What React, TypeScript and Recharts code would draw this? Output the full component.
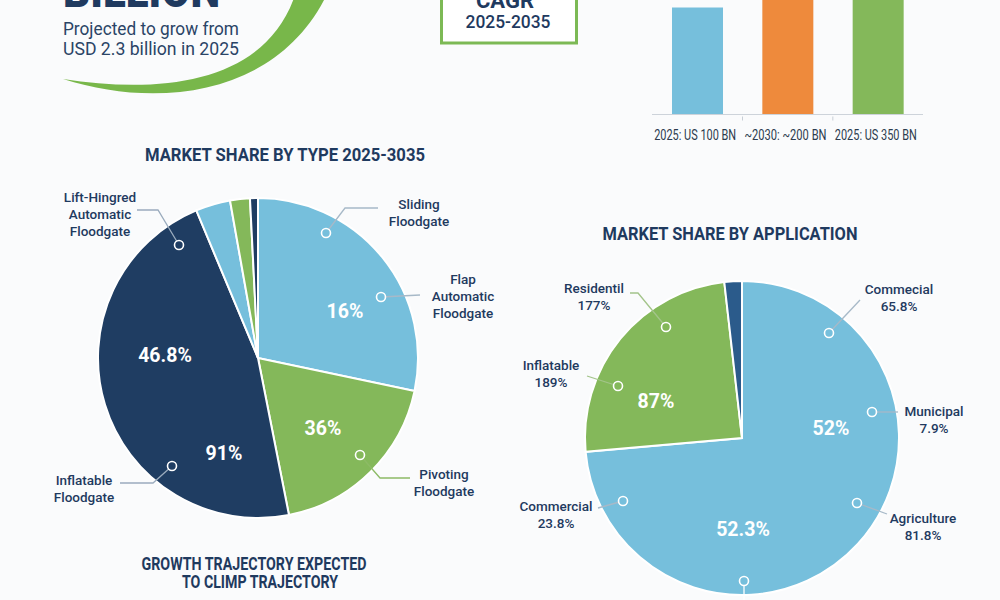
import React from 'react';
import { Bar, BarChart, Cell, Pie, PieChart, XAxis, YAxis } from 'recharts';

// market size bars
const growthLabels = ['2025: US 100 BN', '~2030: ~200 BN', '2025: US 350 BN'];
const growthValues = [100, 200, 350];

// share by type (clockwise from 12 o'clock)
const typeNames = ['Sliding', 'Pivoting', 'Inflatable', 'Lift-Hingred', 'Flap', 'Other'];
const typeShares = [28.3, 18.6, 46.8, 3.5, 2.0, 0.8];
const typeValueLabels = ['16%', '36%', '46.8%', '91%'];
const typeCallouts = [
  ['Lift-Hingred', 'Automatic', 'Floodgate'],
  ['Sliding', 'Floodgate'],
  ['Flap', 'Automatic', 'Floodgate'],
  ['Pivoting', 'Floodgate'],
  ['Inflatable', 'Floodgate'],
];

// share by application
const appNames = ['Commercial', 'Residential', 'Other'];
const appShares = [73.6, 24.6, 1.8];
const appValueLabels = ['87%', '52%', '52.3%'];
const appCallouts = [
  ['Residentil', '177%'],
  ['Commecial', '65.8%'],
  ['Inflatable', '189%'],
  ['Municipal', '7.9%'],
  ['Commercial', '23.8%'],
  ['Agriculture', '81.8%'],
];

const NAVY = '#1f3a5f';
const LIGHT_BLUE = '#76bfdc';
const GREEN = '#84b85a';
const ORANGE = '#ee8a3c';
const FONT = 'Roboto, "Noto Sans", sans-serif';

const barColors = [LIGHT_BLUE, ORANGE, GREEN];
const typeColors = [LIGHT_BLUE, GREEN, '#1f3d62', LIGHT_BLUE, GREEN, '#1f3d62'];
const appColors = [LIGHT_BLUE, GREEN, '#2b5b8b'];

// callout placement: text centre, dot, leader path, dot fill, line colour
const typeCalloutLayout = [
  { x: 100, y: 197, dot: [179, 245], d: 'M137 210 H158 L179 245', fill: '#1f3d62', line: '#9aabbd' },
  { x: 419, y: 204, dot: [326, 233], d: 'M326 233 L345 208 H378', fill: LIGHT_BLUE, line: '#a7b9c8' },
  { x: 463, y: 279, dot: [381, 297], d: 'M381 297 L420 295', fill: LIGHT_BLUE, line: '#a7b9c8' },
  { x: 444, y: 474, dot: [360, 455], d: 'M360 455 L380 478 H410', fill: GREEN, line: '#8dbb66' },
  { x: 84, y: 480, dot: [172, 466], d: 'M172 466 L153 483 H120', fill: '#1f3d62', line: '#9aabbd' },
];
const typeValueLayout = [
  [345, 311],
  [323, 428],
  [165, 355],
  [224, 453],
];

const appCalloutLayout = [
  { x: 594, y: 288, dot: [666, 327], d: 'M630 293 H638 L666 327', fill: GREEN, line: '#a3c48a' },
  { x: 899, y: 289, dot: [829, 333], d: 'M829 333 L860 300', fill: LIGHT_BLUE, line: '#a7b9c8' },
  { x: 551, y: 365, dot: [618, 386], d: 'M587 376 L618 386', fill: GREEN, line: '#a3c48a' },
  { x: 934, y: 411, dot: [872, 412], d: 'M872 412 H898', fill: LIGHT_BLUE, line: '#a7b9c8' },
  { x: 556, y: 506, dot: [623, 501], d: 'M598 508 L623 501', fill: LIGHT_BLUE, line: '#a7b9c8' },
  { x: 923, y: 518, dot: [857, 503], d: 'M857 503 L887 514', fill: LIGHT_BLUE, line: '#a7b9c8' },
];
const appValueLayout = [
  [656, 401],
  [831, 428],
  [743, 529],
];

const growthData = growthLabels.map((label, i) => ({ label, value: growthValues[i] }));
const typeData = typeNames.map((name, i) => ({ name, value: typeShares[i] }));
const appData = appNames.map((name, i) => ({ name, value: appShares[i] }));

const GrowthTick = (props: any) => {
  const { x, y, payload, index } = props;
  return (
    <g>
      {index > 0 && <line x1={x - 45} x2={x - 45} y1={y} y2={y + 4} stroke="#c8ced6" />}
      <text
        x={x - 2}
        y={y + 23}
        textAnchor="middle"
        fill="#2c3b4e"
        fontSize={14}
        fontFamily={FONT}
        textLength={82}
        lengthAdjust="spacingAndGlyphs"
      >
        {payload.value}
      </text>
    </g>
  );
};

const Callout = ({ lines, layout }: { lines: string[]; layout: any }) => (
  <g>
    <path d={layout.d} fill="none" stroke={layout.line} strokeWidth={1.3} />
    <circle cx={layout.dot[0]} cy={layout.dot[1]} r={4.5} fill={layout.fill} stroke="#fff" strokeWidth={1.6} />
    {lines.map((t, i) => (
      <text
        key={t + i}
        x={layout.x}
        y={layout.y + i * 17 + 5}
        textAnchor="middle"
        fontSize={13.5}
        fontWeight={500}
        fill={NAVY}
      >
        {t}
      </text>
    ))}
  </g>
);

const ValueLabel = ({ text, at }: { text: string; at: number[] }) => (
  <text x={at[0]} y={at[1] + 7} textAnchor="middle" fontSize={19.5} fontWeight={700} fill="#fff">
    {text}
  </text>
);

export default function App() {
  return (
    <div
      style={{
        position: 'absolute',
        left: 0,
        top: 0,
        width: 1000,
        height: 600,
        overflow: 'hidden',
        background: '#fafbfc',
        fontFamily: FONT,
      }}
    >
      {/* header decoration */}
      <svg width={1000} height={600} style={{ position: 'absolute', left: 0, top: 0 }} fontFamily={FONT}>
        <path
          d="M63 79 C160 110 280 95 328 -8 L296 -8 C268 82 165 95 63 79 Z"
          fill="#78b74a"
        />
        <text x={63} y={7} fontSize={46} fontWeight={900} fill={NAVY} textLength={157} lengthAdjust="spacingAndGlyphs">
          BILLION
        </text>
        <text x={63} y={35} fontSize={18.5} fill="#2a4466" textLength={176} lengthAdjust="spacingAndGlyphs">
          Projected to grow from
        </text>
        <text x={63} y={55} fontSize={18.5} fill="#2a4466" textLength={176} lengthAdjust="spacingAndGlyphs">
          USD 2.3 billion in 2025
        </text>
        <rect x={441.5} y={-20} width={135} height={63} fill="#fff" stroke="#7cb955" strokeWidth={3} />
        <text x={505} y={8} textAnchor="middle" fontSize={22} fontWeight={700} fill={NAVY}>
          CAGR
        </text>
        <text x={508} y={28} textAnchor="middle" fontSize={18.5} fontWeight={500} fill={NAVY} textLength={85} lengthAdjust="spacingAndGlyphs">
          2025-2035
        </text>
      </svg>

      <div style={{ position: 'absolute', left: 612, top: -260.5 }}>
        <BarChart width={351} height={414.5} data={growthData} margin={{ top: 0, right: 40, bottom: 0, left: 40 }}>
          <XAxis
            dataKey="label"
            height={40}
            tickLine={false}
            tickSize={0}
            axisLine={{ stroke: '#cdd3da' }}
            interval={0}
            tick={<GrowthTick />}
          />
          <YAxis hide domain={[0, 350]} />
          <Bar dataKey="value" barSize={51} isAnimationActive={false}>
            {growthData.map((d, i) => (
              <Cell key={d.label} fill={barColors[i]} />
            ))}
          </Bar>
        </BarChart>
      </div>

      <div style={{ position: 'absolute', left: 58, top: 158 }}>
        <PieChart width={400} height={400} margin={{ top: 0, right: 0, bottom: 0, left: 0 }}>
          <Pie
            data={typeData}
            dataKey="value"
            cx={200}
            cy={200}
            outerRadius={160}
            startAngle={90}
            endAngle={-270}
            stroke="#fff"
            strokeWidth={2}
            isAnimationActive={false}
          >
            {typeData.map((d, i) => (
              <Cell key={d.name + i} fill={typeColors[i]} />
            ))}
          </Pie>
        </PieChart>
      </div>

      <div style={{ position: 'absolute', left: 542, top: 238 }}>
        <PieChart width={400} height={400} margin={{ top: 0, right: 0, bottom: 0, left: 0 }}>
          <Pie
            data={appData}
            dataKey="value"
            cx={200}
            cy={200}
            outerRadius={157}
            startAngle={90}
            endAngle={-270}
            stroke="#fff"
            strokeWidth={2}
            isAnimationActive={false}
          >
            {appData.map((d, i) => (
              <Cell key={d.name} fill={appColors[i]} />
            ))}
          </Pie>
        </PieChart>
      </div>

      {/* titles, callouts and value labels */}
      <svg
        width={1000}
        height={600}
        style={{ position: 'absolute', left: 0, top: 0, pointerEvents: 'none' }}
        fontFamily={FONT}
      >
        <text x={285} y={161} textAnchor="middle" fontSize={18} fontWeight={700} fill={NAVY} textLength={280} lengthAdjust="spacingAndGlyphs">
          MARKET SHARE BY TYPE 2025-3035
        </text>
        <text x={730} y={240} textAnchor="middle" fontSize={18.5} fontWeight={700} fill={NAVY} textLength={255} lengthAdjust="spacingAndGlyphs">
          MARKET SHARE BY APPLICATION
        </text>

        {typeCallouts.map((lines, i) => (
          <Callout key={'t' + i} lines={lines} layout={typeCalloutLayout[i]} />
        ))}
        {typeValueLabels.map((t, i) => (
          <ValueLabel key={'tv' + i} text={t} at={typeValueLayout[i]} />
        ))}

        {appCallouts.map((lines, i) => (
          <Callout key={'a' + i} lines={lines} layout={appCalloutLayout[i]} />
        ))}
        <path d="M744 581 V600" stroke="#fff" strokeWidth={1.3} />
        <circle cx={744} cy={581} r={4.5} fill={LIGHT_BLUE} stroke="#fff" strokeWidth={1.6} />
        {appValueLabels.map((t, i) => (
          <ValueLabel key={'av' + i} text={t} at={appValueLayout[i]} />
        ))}

        <text x={254} y={570} textAnchor="middle" fontSize={17.5} fontWeight={700} fill={NAVY} textLength={225} lengthAdjust="spacingAndGlyphs">
          GROWTH TRAJECTORY EXPECTED
        </text>
        <text x={260} y={588} textAnchor="middle" fontSize={17.5} fontWeight={700} fill={NAVY} textLength={156} lengthAdjust="spacingAndGlyphs">
          TO CLIMP TRAJECTORY
        </text>
      </svg>
    </div>
  );
}
